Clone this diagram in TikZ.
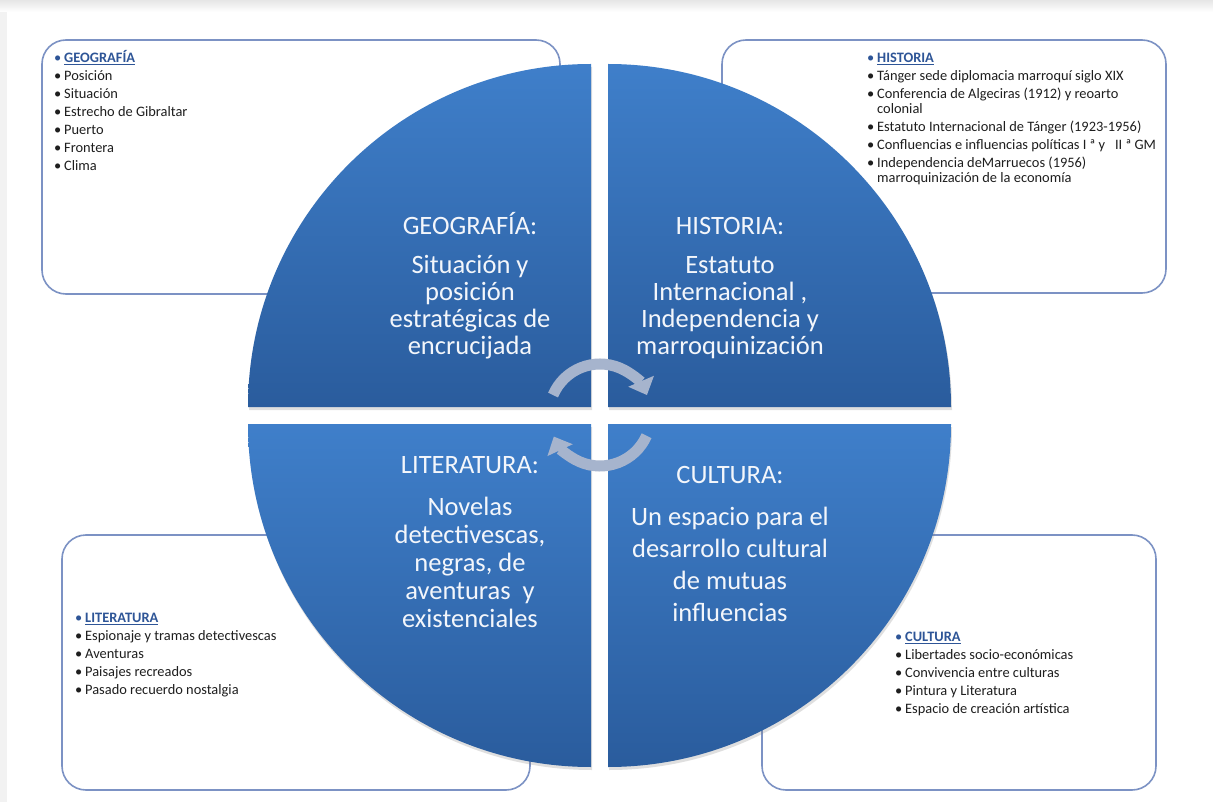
\documentclass[tikz,border=0pt]{standalone}
\usepackage{fontspec}
\setmainfont{Carlito}
\usepackage{xcolor}
\usetikzlibrary{arrows.meta,shadows}

\definecolor{qtop}{HTML}{3F7FCA}
\definecolor{qbot}{HTML}{2A5C9D}
\definecolor{cyclegray}{HTML}{A6B4CD}
\definecolor{boxline}{HTML}{7C92C4}
\definecolor{titleblue}{HTML}{2E5597}
\definecolor{listgray}{HTML}{1E1E1E}
\definecolor{quadtext}{HTML}{F3F6FB}

\newcommand{\itm}{\makebox[10pt][l]{\textbullet}}
\newcommand{\ttl}[1]{\textcolor{titleblue}{\makebox[10pt][l]{\textbullet}\bfseries\underline{#1}}}

\begin{document}
\begin{tikzpicture}[x=1pt, y=1pt,
    quad/.style={top color=qtop, bottom color=qbot, draw=none,
        drop shadow={shadow xshift=1pt, shadow yshift=-3pt, opacity=.25}},
    infobox/.style={draw=boxline, line width=1.6pt, rounded corners=24pt, fill=white},
    listtext/.style={font=\fontsize{14.4}{18}\selectfont, text=listgray, inner sep=0pt, anchor=base west},
    quadlabel/.style={font=\fontsize{26.5}{27}\selectfont, text=quadtext, inner sep=0pt, anchor=base},
    cyclearrow/.style={draw=cyclegray, line width=11pt, -{Triangle[width=27pt,length=15pt]}}]
    \useasboundingbox (0,0) rectangle (1213,-802);
    \fill[white] (0,0) rectangle (1213,-802);
    \shade[top color=black!10, bottom color=white] (0,0) rectangle (1213,-12);
    \fill[black!5] (0,-12) rectangle (7,-802);

    \node[infobox, minimum width=518pt, minimum height=254pt] (geobox) at (301,-167) {};
    \node[infobox, minimum width=444pt, minimum height=253pt] (histbox) at (944,-166.5) {};
    \node[infobox, minimum width=468pt, minimum height=255pt] (litbox) at (296,-662.5) {};
    \node[infobox, minimum width=394pt, minimum height=255pt] (cultbox) at (959,-662.5) {};

    \node[listtext] (geolist) at (54,-62.5) {\begin{tabular}[t]{@{}l@{}}
        \ttl{GEOGRAFÍA}\\ \itm Posición\\ \itm Situación\\ \itm Estrecho de Gibraltar\\
        \itm Puerto\\ \itm Frontera\\ \itm Clima\end{tabular}};
    \node[listtext] (histlist) at (867,-62.5) {\begin{tabular}[t]{@{}l@{}}
        \ttl{HISTORIA}\\ \itm Tánger sede diplomacia marroquí siglo XIX\\
        \itm Conferencia de Algeciras (1912) y reoarto\\[-3pt] \hspace{10pt}colonial\\
        \itm Estatuto Internacional de Tánger (1923-1956)\\
        \itm Confluencias e influencias políticas I ª y \ \ II ª GM\\
        \itm Independencia deMarruecos (1956)\\[-3pt] \hspace{10pt}marroquinización de la economía\end{tabular}};
    \node[listtext] (litlist) at (75,-622.5) {\begin{tabular}[t]{@{}l@{}}
        \ttl{LITERATURA}\\ \itm Espionaje y tramas detectivescas\\ \itm Aventuras\\
        \itm Paisajes recreados\\ \itm Pasado recuerdo nostalgia\end{tabular}};
    \node[listtext] (cultlist) at (895,-641.5) {\begin{tabular}[t]{@{}l@{}}
        \ttl{CULTURA}\\ \itm Libertades socio-económicas\\ \itm Convivencia entre culturas\\
        \itm Pintura y Literatura\\ \itm Espacio de creación artística\end{tabular}};

    \path[quad] (591,-407) -- (248,-407) arc[start angle=180, end angle=90, radius=343pt] -- cycle;
    \path[quad] (608,-407) -- (608,-64) arc[start angle=90, end angle=0, radius=343pt] -- cycle;
    \path[quad] (591,-424) -- (591,-767) arc[start angle=270, end angle=180, radius=343pt] -- cycle;
    \path[quad] (608,-424) -- (951,-424) arc[start angle=0, end angle=-90, radius=343pt] -- cycle;

    \node[quadlabel] (geotitle) at (470,-235) {GEOGRAFÍA:};
    \node[quadlabel] (geotext) at (470,-274) {\begin{tabular}[t]{@{}c@{}}
        Situación y\\ posición\\ estratégicas de\\ encrucijada\end{tabular}};
    \node[quadlabel] (histtitle) at (730,-235) {HISTORIA:};
    \node[quadlabel] (histtext) at (730,-274) {\begin{tabular}[t]{@{}c@{}}
        Estatuto\\ Internacional ,\\ Independencia y\\ marroquinización\end{tabular}};
    \node[quadlabel] (littitle) at (470,-473) {LITERATURA:};
    \node[quadlabel, font=\fontsize{26.5}{28}\selectfont] (littext) at (470,-515) {\begin{tabular}[t]{@{}c@{}}
        Novelas\\ detectivescas,\\ negras, de\\ aventuras \ y\\ existenciales\end{tabular}};
    \node[quadlabel] (culttitle) at (730,-483) {CULTURA:};
    \node[quadlabel, font=\fontsize{26.5}{32.3}\selectfont] (culttext) at (730,-525) {\begin{tabular}[t]{@{}c@{}}
        Un espacio para el\\ desarrollo cultural\\ de mutuas\\ influencias\end{tabular}};

    \coordinate (hub) at (600,-415);
    \draw[cyclearrow] (hub) ++(157:51pt) arc[start angle=157, end angle=23, radius=51pt];
    \draw[cyclearrow] (hub) ++(-24:51pt) arc[start angle=-24, end angle=-155, radius=51pt];
\end{tikzpicture}
\end{document}
